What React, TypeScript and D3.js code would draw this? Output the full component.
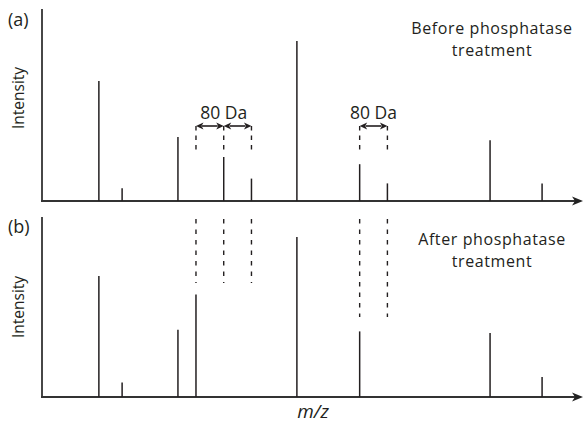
import React from "react";
import * as d3 from "d3";

// m/z of peaks and relative intensities (max peak = 100)
const mzA = [564, 631, 792, 924, 1004, 1135, 1316, 1396, 1692, 1842];
const intA = [75, 8, 40, 27.5, 14, 100, 23, 11, 38, 11];
const mzB = [564, 631, 792, 844, 1135, 1316, 1692, 1842];
const intB = [75.6, 9, 42, 64, 100, 41, 40, 12.5];
// dephosphorylated / phosphorylated guide positions
const guideGroup1 = [844, 924, 1004];
const guideGroup2 = [1316, 1396];
const arrowPairs: [number, number][] = [
  [844, 924],
  [924, 1004],
  [1316, 1396],
];
const arrowLabels = [
  { from: 844, to: 1004, text: "80 Da" },
  { from: 1316, to: 1396, text: "80 Da" },
];
const panelLabels = ["(a)", "(b)"];
const panelTitles = [
  ["Before phosphatase", "treatment"],
  ["After phosphatase", "treatment"],
];

const W = 583;
const H = 423;
const FONT = "'Open Sans', 'Noto Sans', sans-serif";
const INK = "#231f20";

const x = d3.scaleLinear().domain([400, 1960]).range([42, 583]);

const panels = [
  { base: 201, top: 9, mz: mzA, int: intA, label: 26, ylab: 98, t1: 34, t2: 56 },
  { base: 397, top: 217, mz: mzB, int: intB, label: 233, ylab: 307, t1: 245, t2: 267 },
];

function Arrow({ x1, x2, y }: { x1: number; x2: number; y: number }) {
  const ah = 6;
  const aw = 3.4;
  return (
    <g>
      <line x1={x1 + ah} x2={x2 - ah} y1={y} y2={y} stroke={INK} strokeWidth={1.6} />
      <path d={`M${x1},${y} L${x1 + ah + 1.5},${y - aw} L${x1 + ah - 0.5},${y} L${x1 + ah + 1.5},${y + aw} Z`} fill={INK} />
      <path d={`M${x2},${y} L${x2 - ah - 1.5},${y - aw} L${x2 - ah + 0.5},${y} L${x2 - ah - 1.5},${y + aw} Z`} fill={INK} />
    </g>
  );
}

export default function App() {
  return (
    <svg
      width={W}
      height={H}
      style={{ position: "absolute", left: 0, top: 0, background: "#fff" }}
      fontFamily={FONT}
    >
      {panels.map((p, i) => {
        const y = d3.scaleLinear().domain([0, 100]).range([p.base, p.base - 160]);
        return (
          <g key={i}>
            {/* axes */}
            <line x1={42} x2={42} y1={p.top} y2={p.base + 1} stroke="#333" strokeWidth={1.8} />
            <line x1={41} x2={577} y1={p.base} y2={p.base} stroke="#333" strokeWidth={1.8} />
            <path d={`M583,${p.base} L572,${p.base - 4.5} L575,${p.base} L572,${p.base + 4.5} Z`} fill="#222" />
            {/* peaks */}
            {p.mz.map((m, j) => (
              <line
                key={j}
                x1={x(m)}
                x2={x(m)}
                y1={p.base}
                y2={y(p.int[j])}
                stroke={INK}
                strokeWidth={1.5}
              />
            ))}
            <text x={8} y={p.label} fontSize={18} fill={INK}>
              {panelLabels[i]}
            </text>
            <text
              transform={`translate(24,${p.ylab}) rotate(-90)`}
              textAnchor="middle"
              fontSize={15.5}
              fill={INK}
            >
              Intensity
            </text>
            <text x={492} y={p.t1} textAnchor="middle" fontSize={16} letterSpacing={0.6} fill={INK}>
              {panelTitles[i][0]}
            </text>
            <text x={492} y={p.t2} textAnchor="middle" fontSize={16} letterSpacing={0.6} fill={INK}>
              {panelTitles[i][1]}
            </text>
          </g>
        );
      })}
      {/* panel a guides */}
      {[...guideGroup1, ...guideGroup2].map((m, j) => (
        <line key={"ga" + j} x1={x(m)} x2={x(m)} y1={126} y2={153} stroke={INK} strokeWidth={1.4} strokeDasharray="4.5,5" />
      ))}
      {arrowPairs.map(([a, b], j) => (
        <Arrow key={"ar" + j} x1={x(a)} x2={x(b)} y={126} />
      ))}
      {arrowLabels.map((l, j) => (
        <text key={"al" + j} x={(x(l.from) + x(l.to)) / 2} y={119} textAnchor="middle" fontSize={17.5} fill={INK}>
          {l.text}
        </text>
      ))}
      {/* panel b guides */}
      {guideGroup1.map((m, j) => (
        <line key={"gb1" + j} x1={x(m)} x2={x(m)} y1={219} y2={283} stroke={INK} strokeWidth={1.4} strokeDasharray="4.5,6" />
      ))}
      {guideGroup2.map((m, j) => (
        <line key={"gb2" + j} x1={x(m)} x2={x(m)} y1={219} y2={317} stroke={INK} strokeWidth={1.4} strokeDasharray="4.5,6" />
      ))}
      <text x={313} y={418} textAnchor="middle" fontSize={19} fontStyle="italic" fill={INK}>
        m/z
      </text>
    </svg>
  );
}
